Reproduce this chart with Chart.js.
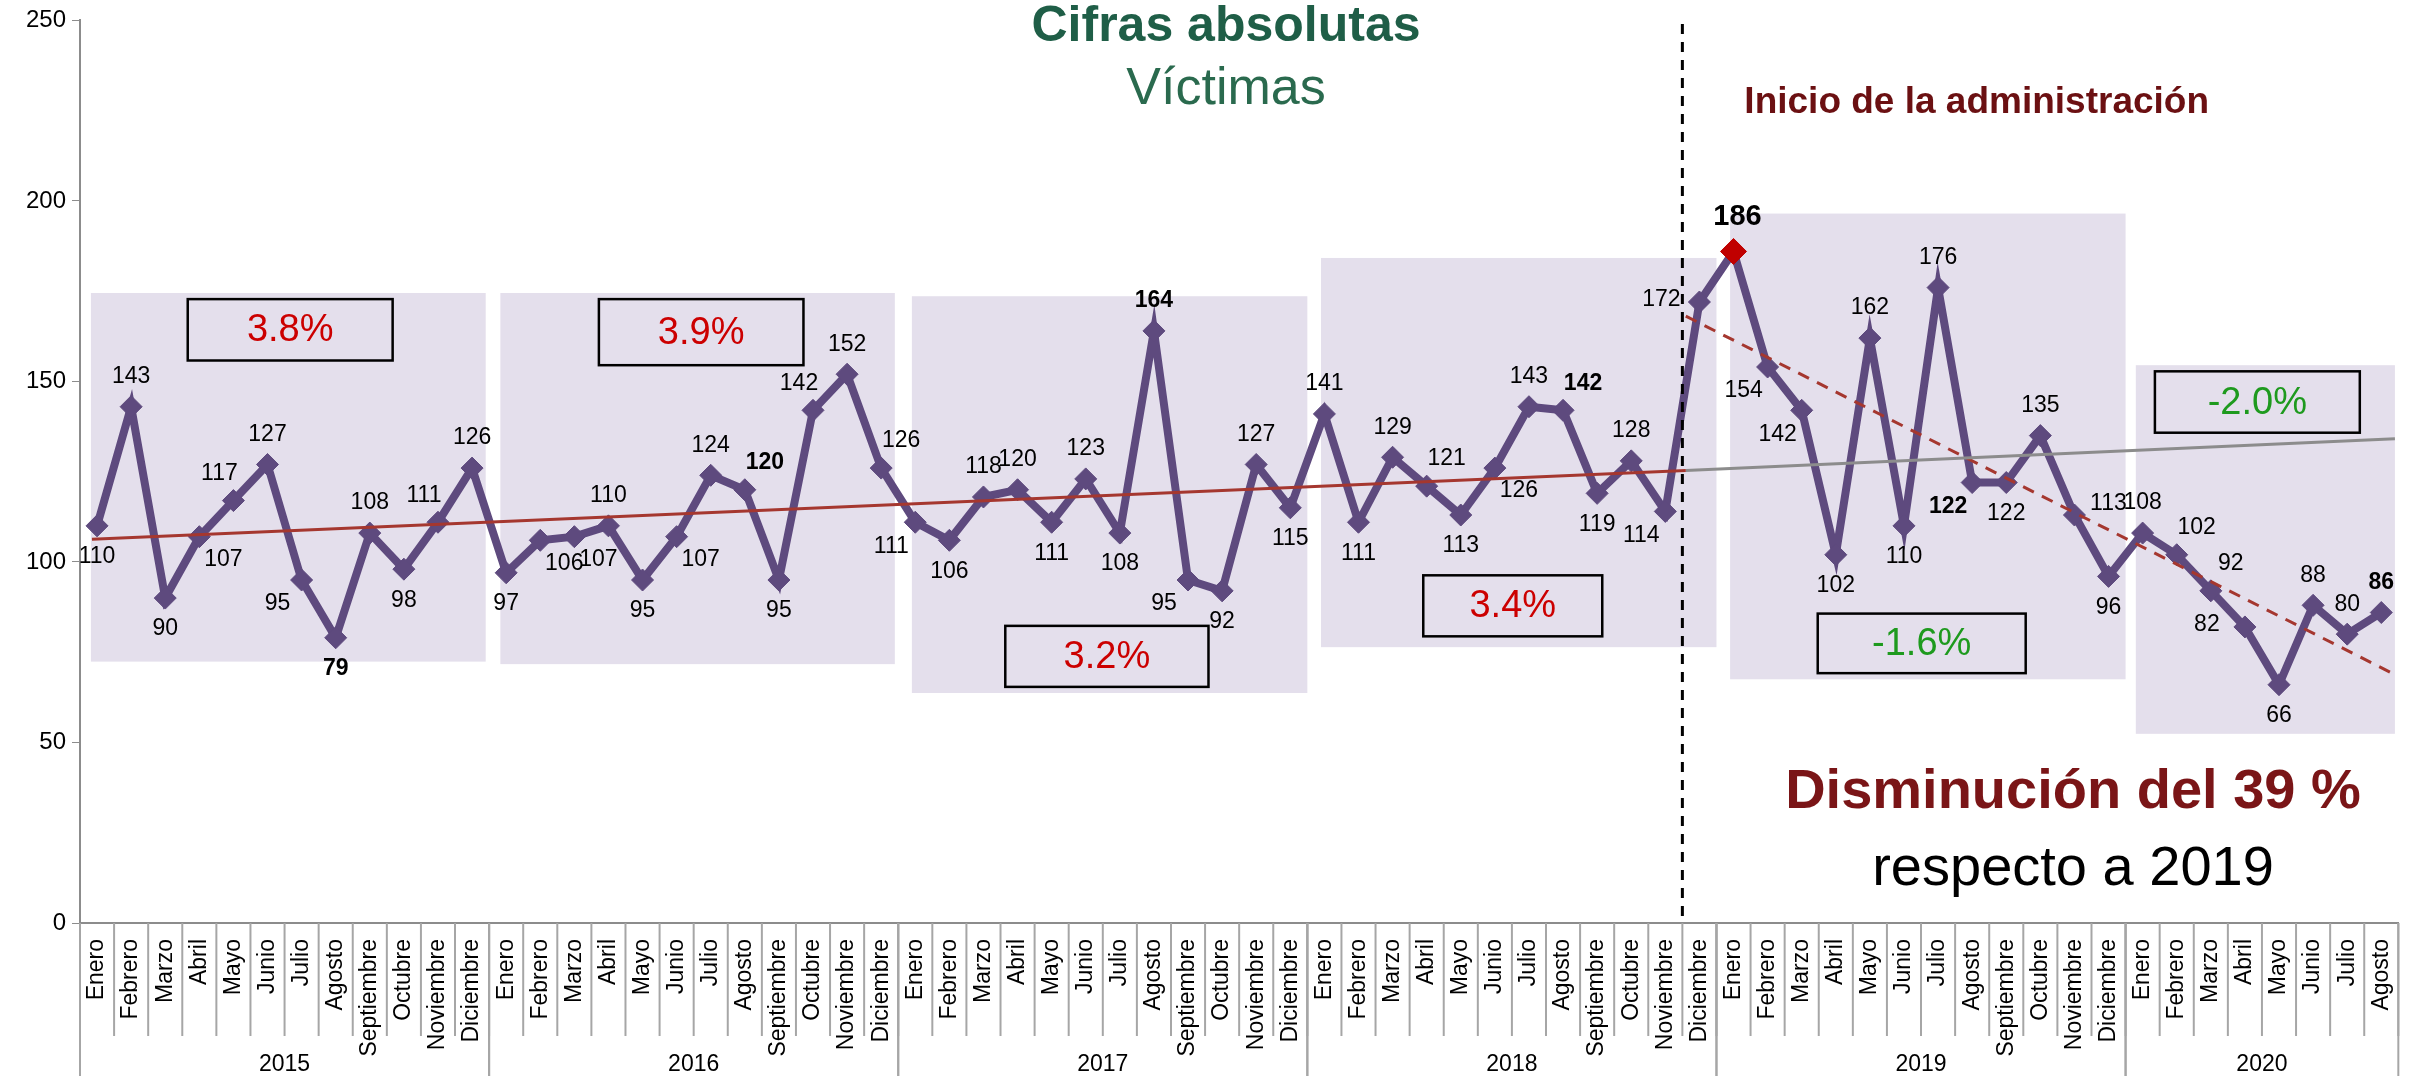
<!DOCTYPE html>
<html>
<head>
<meta charset="utf-8">
<script src="https://cdn.jsdelivr.net/npm/chart.js@4.4.0/dist/chart.umd.min.js"></script>
<style>
    html, body { margin: 0; padding: 0; background: #ffffff; }
    #wrap { width: 2417px; height: 1076px; }
</style>
</head>
<body>
<div id="wrap"><canvas id="victimasChart" width="2417" height="1076"></canvas></div>
<script>
var months = ['Enero', 'Febrero', 'Marzo', 'Abril', 'Mayo', 'Junio', 'Julio', 'Agosto',
              'Septiembre', 'Octubre', 'Noviembre', 'Diciembre'];
var years = ['2015', '2016', '2017', '2018', '2019', '2020'];

var v2015 = [110, 143, 90, 107, 117, 127, 95, 79, 108, 98, 111, 126];
var v2016 = [97, 106, 107, 110, 95, 107, 124, 120, 95, 142, 152, 126];
var v2017 = [111, 106, 118, 120, 111, 123, 108, 164, 95, 92, 127, 115];
var v2018 = [141, 111, 129, 121, 113, 126, 143, 142, 119, 128, 114, 172];
var v2019 = [186, 154, 142, 102, 162, 110, 176, 122, 122, 135, 113, 96];
var v2020 = [108, 102, 92, 82, 66, 88, 80, 86];

var yearPercent = ['3.8%', '3.9%', '3.2%', '3.4%', '-1.6%', '-2.0%'];

// trend lines, as [index, value] end points
var trendAll = [[-0.15, 106.3], [46.6, 125.3]];
var trendAllRest = [[46.6, 125.3], [67.4, 134.1]];
var trendAdmin = [[46.6, 168.1], [67.4, 68.8]];

var yearValues = [v2015, v2016, v2017, v2018, v2019, v2020];
var labels = [];
var victimas = [];
yearValues.forEach(function(arr) {
    labels = labels.concat(months.slice(0, arr.length));
    victimas = victimas.concat(arr);
});
var peakIdx = victimas.indexOf(Math.max.apply(null, victimas));
var adminStart = 46.5; // between noviembre and diciembre 2018

// where each value label sits around its point
var labelPos = [
    'b', 'a', 'b', 'br', 'al', 'a', 'bl', 'b', 'a', 'b', 'al', 'a',
    'b', 'br', 'br', 'a', 'b', 'br', 'a', 'ar', 'b', 'al', 'a', 'ar',
    'bl', 'b', 'a', 'a', 'b', 'a', 'b', 'a', 'bl', 'b', 'a', 'b',
    'a', 'b', 'a', 'ar', 'b', 'br', 'a', 'ar', 'b', 'a', 'bl', 'l',
    'a', 'bl', 'bl', 'b', 'a', 'b', 'a', 'bl', 'b', 'a', 'r', 'b',
    'a', 'ar', 'ar', 'l', 'b', 'a', 'a', 'a'
];
var offsets = {
    a: [0, -30], b: [0, 31], al: [-14, -27], ar: [20, -27],
    bl: [-24, 24], br: [24, 23], l: [-38, -2], r: [34, -11]
};

// shaded yearly panels and the boxes with the yearly change
var panels = [
    { from: -0.18, to: 11.4, top: 174.5, bottom: 72.4 },
    { from: 11.83, to: 23.4, top: 174.5, bottom: 71.7 },
    { from: 23.9, to: 35.5, top: 173.6, bottom: 63.7 },
    { from: 35.9, to: 47.5, top: 184.2, bottom: 76.4 },
    { from: 47.9, to: 59.5, top: 196.5, bottom: 67.5 },
    { from: 59.8, to: 67.4, top: 154.5, bottom: 52.4 }
];
var percentBoxes = [
    { from: 2.66, to: 8.67, top: 172.8, bottom: 155.8 },
    { from: 14.72, to: 20.72, top: 172.8, bottom: 154.5 },
    { from: 26.64, to: 32.6, top: 82.3, bottom: 65.4 },
    { from: 38.9, to: 44.15, top: 96.3, bottom: 79.4 },
    { from: 50.47, to: 56.57, top: 85.7, bottom: 69.2 },
    { from: 60.36, to: 66.37, top: 152.8, bottom: 135.8 }
];

var FONT = '"Liberation Sans", Arial, sans-serif';

function toXY(pairs) {
    return pairs.map(function(p) { return { x: p[0], y: p[1] }; });
}

var decorPlugin = {
    id: 'decor',
    beforeDatasetsDraw: function(chart) {
        var ctx = chart.ctx, xs = chart.scales.xi, ys = chart.scales.y;
        ctx.save();
        ctx.fillStyle = '#E4DFEC';
        panels.forEach(function(p) {
            var x1 = xs.getPixelForValue(p.from), x2 = xs.getPixelForValue(p.to);
            var y1 = ys.getPixelForValue(p.top), y2 = ys.getPixelForValue(p.bottom);
            ctx.fillRect(x1, y1, x2 - x1, y2 - y1);
        });
        ctx.strokeStyle = '#000000';
        ctx.lineWidth = 2.5;
        ctx.textAlign = 'center';
        ctx.textBaseline = 'middle';
        ctx.font = '38px ' + FONT;
        percentBoxes.forEach(function(b, i) {
            var x1 = xs.getPixelForValue(b.from), x2 = xs.getPixelForValue(b.to);
            var y1 = ys.getPixelForValue(b.top), y2 = ys.getPixelForValue(b.bottom);
            ctx.strokeRect(x1, y1, x2 - x1, y2 - y1);
            ctx.fillStyle = yearPercent[i].charAt(0) === '-' ? '#1E9A1E' : '#CC0000';
            ctx.fillText(yearPercent[i], (x1 + x2) / 2, (y1 + y2) / 2 + 1);
        });
        ctx.restore();
    },
    afterDatasetsDraw: function(chart) {
        var ctx = chart.ctx, xs = chart.scales.xi, ys = chart.scales.y;
        var meta = chart.getDatasetMeta(0);
        ctx.save();
        ctx.textAlign = 'center';
        ctx.textBaseline = 'middle';
        ctx.fillStyle = '#000000';
        meta.data.forEach(function(pt, i) {
            var off = offsets[labelPos[i]] || offsets.a;
            var bold = labels[i] === 'Agosto';
            if (i === peakIdx) {
                ctx.font = 'bold 29px ' + FONT;
                ctx.fillText(victimas[i], pt.x + 4, pt.y - 34);
                return;
            }
            ctx.font = (bold ? 'bold ' : '') + '23px ' + FONT;
            ctx.fillText(victimas[i], pt.x + off[0], pt.y + off[1]);
        });

        // start of the administration
        var vx = xs.getPixelForValue(adminStart);
        ctx.strokeStyle = '#000000';
        ctx.lineWidth = 3;
        ctx.setLineDash([10, 8]);
        ctx.beginPath();
        ctx.moveTo(vx, ys.getPixelForValue(249));
        ctx.lineTo(vx, ys.getPixelForValue(0));
        ctx.stroke();
        ctx.setLineDash([]);
        ctx.restore();
    },
    afterDraw: function(chart) {
        var ctx = chart.ctx, xs = chart.scales.xi, area = chart.chartArea;
        var H = chart.height;
        ctx.save();
        // month separators and year groups
        ctx.strokeStyle = '#A6A6A6';
        ctx.lineWidth = 2;
        var start = 0;
        for (var i = 0; i <= victimas.length; i++) {
            var x = xs.getPixelForValue(i - 0.5);
            ctx.beginPath();
            ctx.moveTo(x, area.bottom);
            ctx.lineTo(x, area.bottom + 113);
            ctx.stroke();
        }
        ctx.fillStyle = '#000000';
        ctx.textAlign = 'center';
        ctx.textBaseline = 'middle';
        ctx.font = '23px ' + FONT;
        yearValues.forEach(function(arr, k) {
            var x1 = xs.getPixelForValue(start - 0.5);
            var x2 = xs.getPixelForValue(start + arr.length - 0.5);
            ctx.beginPath();
            ctx.moveTo(x1, area.bottom);
            ctx.lineTo(x1, H);
            ctx.moveTo(x2, area.bottom);
            ctx.lineTo(x2, H);
            ctx.stroke();
            ctx.fillText(years[k], (x1 + x2) / 2, area.bottom + 142);
            start += arr.length;
        });

        // texts
        ctx.textAlign = 'center';
        ctx.fillStyle = '#1F5E47';
        ctx.font = 'bold 50px ' + FONT;
        ctx.fillText('Cifras absolutas', 1226, 27);
        ctx.fillStyle = '#2A6A4E';
        ctx.font = '52px ' + FONT;
        ctx.fillText('Víctimas', 1226, 90);

        ctx.textAlign = 'left';
        ctx.fillStyle = '#6B1012';
        ctx.font = 'bold 37px ' + FONT;
        ctx.fillText('Inicio de la administración', xs.getPixelForValue(adminStart) + 62, 103);

        ctx.textAlign = 'center';
        ctx.fillStyle = '#7A1517';
        ctx.font = 'bold 56px ' + FONT;
        ctx.fillText('Disminución del 39 %', 2073, 793);
        ctx.fillStyle = '#000000';
        ctx.font = '56px ' + FONT;
        ctx.fillText('respecto a 2019', 2073, 870);
        ctx.restore();
    }
};

var ctx = document.getElementById('victimasChart');
var chart = new Chart(ctx, {
    type: 'line',
    data: {
        labels: labels,
        datasets: [
            {
                label: 'Víctimas',
                data: victimas,
                xAxisID: 'x',
                borderColor: '#5E4A7E',
                borderWidth: 8,
                tension: 0,
                pointStyle: 'rectRot',
                pointRadius: function(c) { return c.dataIndex === peakIdx ? 13 : 11; },
                pointBackgroundColor: function(c) { return c.dataIndex === peakIdx ? '#C00000' : '#5E4A7E'; },
                pointBorderColor: function(c) { return c.dataIndex === peakIdx ? '#C00000' : '#5E4A7E'; },
                pointBorderWidth: 1,
                order: 5
            },
            {
                label: 'Tendencia',
                data: toXY(trendAll),
                xAxisID: 'xi',
                borderColor: '#A5372F',
                borderWidth: 3,
                pointRadius: 0,
                order: 1
            },
            {
                label: 'Tendencia (cont.)',
                data: toXY(trendAllRest),
                xAxisID: 'xi',
                borderColor: '#8C8C8C',
                borderWidth: 3,
                pointRadius: 0,
                order: 1
            },
            {
                label: 'Tendencia administración',
                data: toXY(trendAdmin),
                xAxisID: 'xi',
                borderColor: '#A5372F',
                borderWidth: 3,
                borderDash: [12, 9],
                pointRadius: 0,
                order: 1
            }
        ]
    },
    options: {
        responsive: false,
        animation: false,
        devicePixelRatio: 1,
        layout: { padding: { top: 15, right: 16, left: 0, bottom: 0 } },
        plugins: {
            legend: { display: false },
            tooltip: { enabled: false },
            title: { display: false }
        },
        scales: {
            x: {
                type: 'category',
                offset: true,
                grid: { display: false },
                border: { display: true, color: '#8C8C8C', width: 2 },
                ticks: {
                    autoSkip: false,
                    maxRotation: 90,
                    minRotation: 90,
                    color: '#000000',
                    padding: 8,
                    font: { size: 23, family: FONT }
                },
                afterFit: function(s) { s.height = 153; }
            },
            xi: {
                type: 'linear',
                display: false,
                min: -0.5,
                max: 67.5
            },
            y: {
                min: 0,
                max: 250,
                ticks: {
                    stepSize: 50,
                    color: '#000000',
                    padding: 6,
                    font: { size: 24, family: FONT }
                },
                grid: { drawOnChartArea: false, tickLength: 8, color: '#8C8C8C' },
                border: { color: '#8C8C8C', width: 2 },
                afterFit: function(s) { s.width = 80; }
            }
        }
    },
    plugins: [decorPlugin]
});
</script>
</body>
</html>
